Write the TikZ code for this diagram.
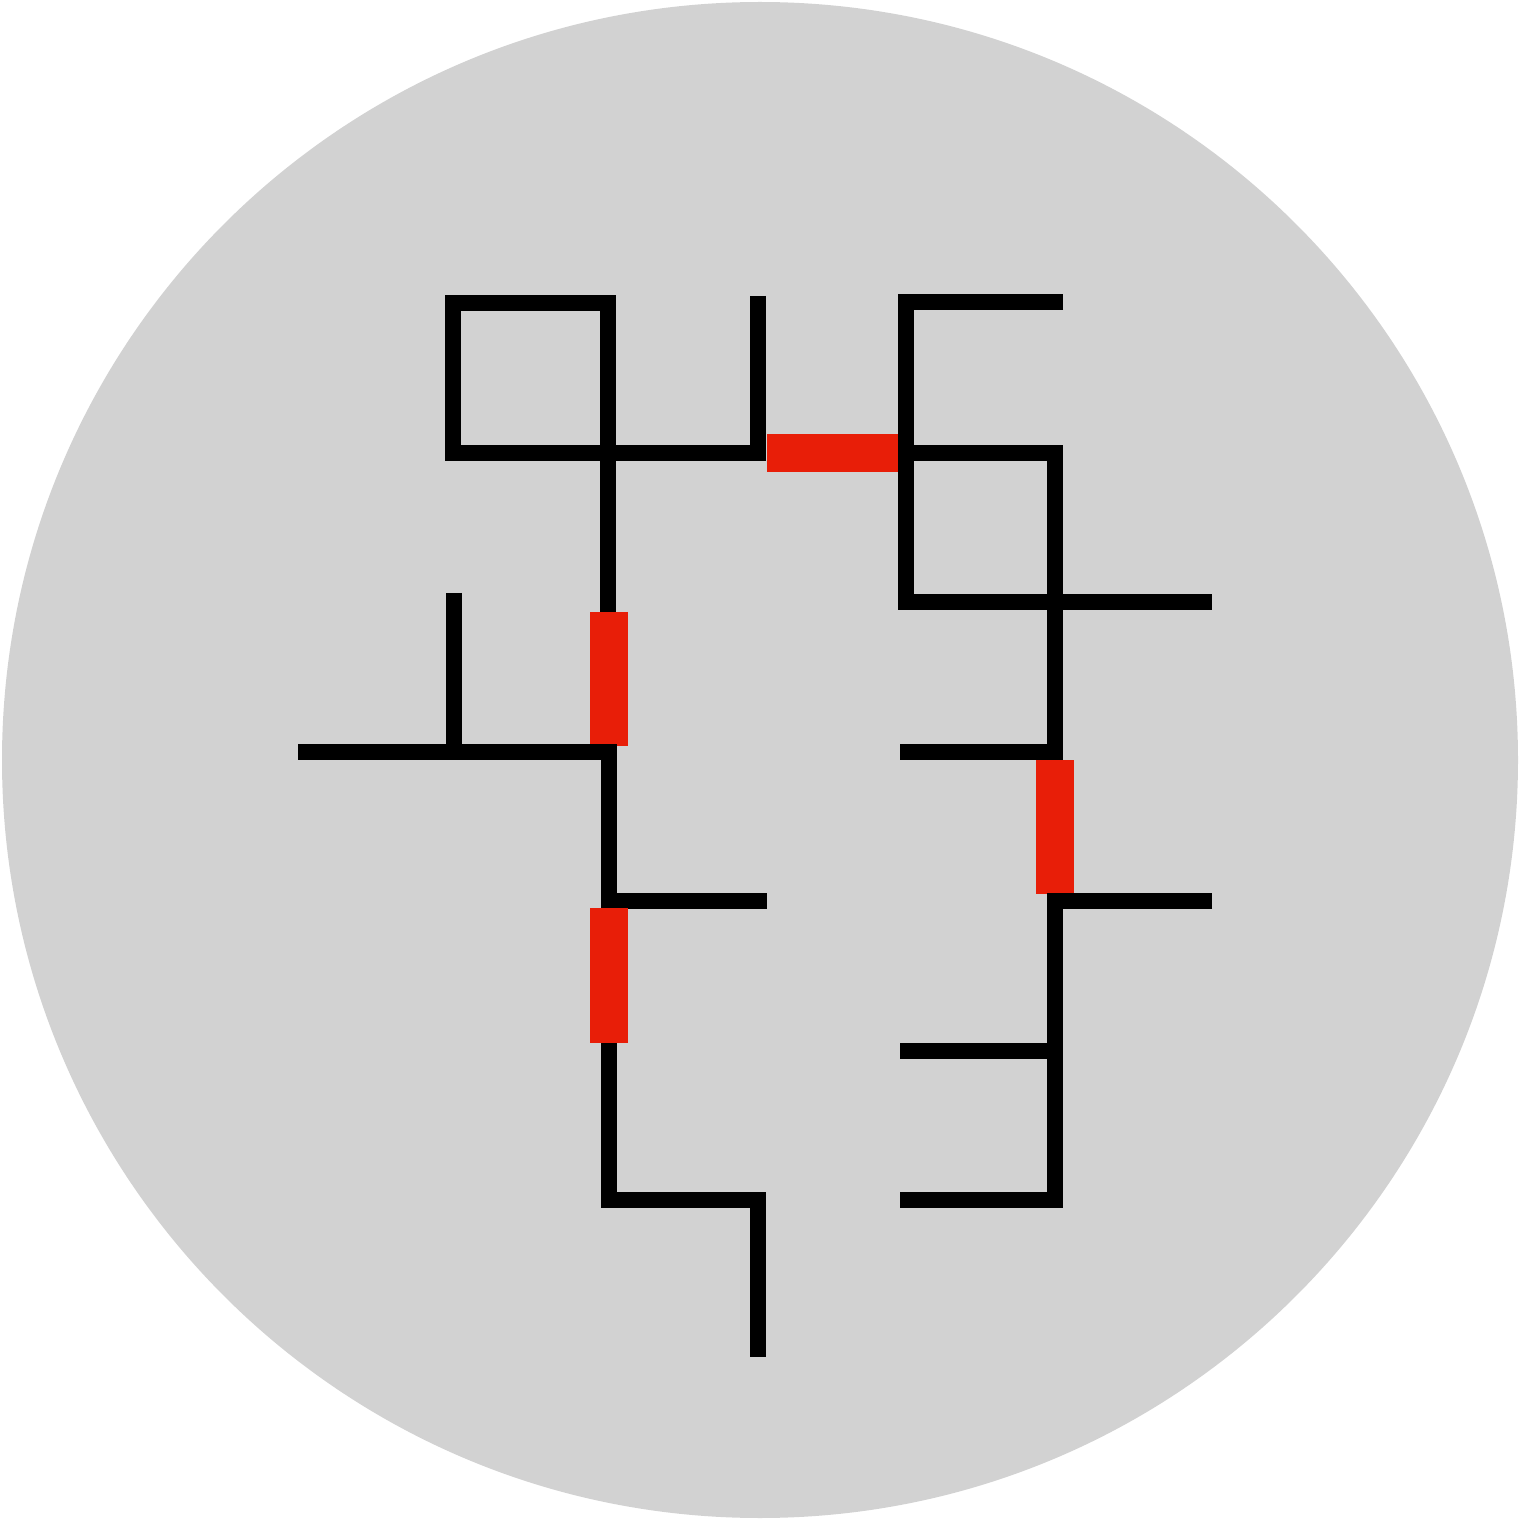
\documentclass[tikz,border=0pt]{standalone}
\definecolor{bggray}{RGB}{210,210,210}
\definecolor{linkred}{RGB}{232,30,8}
\tikzset{
  wall/.style={draw=black, line width=8pt, line cap=butt, line join=miter},
  hot/.style={draw=linkred, line width=19pt, line cap=butt}
}
\begin{document}
\begin{tikzpicture}[x=0.5pt,y=-0.5pt]
\useasboundingbox (0,0) rectangle (1522,1519);
\fill[bggray] (760,760) circle[radius=758];
% top-left square
\draw[wall] (758,296) -- (758,453) -- (453,453) -- (453,303) -- (608,303) -- (608,612);
% top red link
\draw[hot] (767,453) -- (902,453);
% right upper block
\draw[wall] (1063,302) -- (906,302) -- (906,602) -- (1212,602);
\draw[wall] (906,453) -- (1055,453) -- (1055,752) -- (900,752);
\draw[hot] (1055,760) -- (1055,894);
\draw[wall] (1212,901) -- (1055,901) -- (1055,1200) -- (900,1200);
\draw[wall] (900,1051) -- (1055,1051);
% left column
\draw[hot] (609,612) -- (609,746);
\draw[wall] (298,752) -- (609,752) -- (609,901) -- (767,901);
\draw[wall] (454,593) -- (454,752);
\draw[hot] (609,908) -- (609,1043);
\draw[wall] (609,1043) -- (609,1200) -- (758,1200) -- (758,1357);
\end{tikzpicture}
\end{document}
